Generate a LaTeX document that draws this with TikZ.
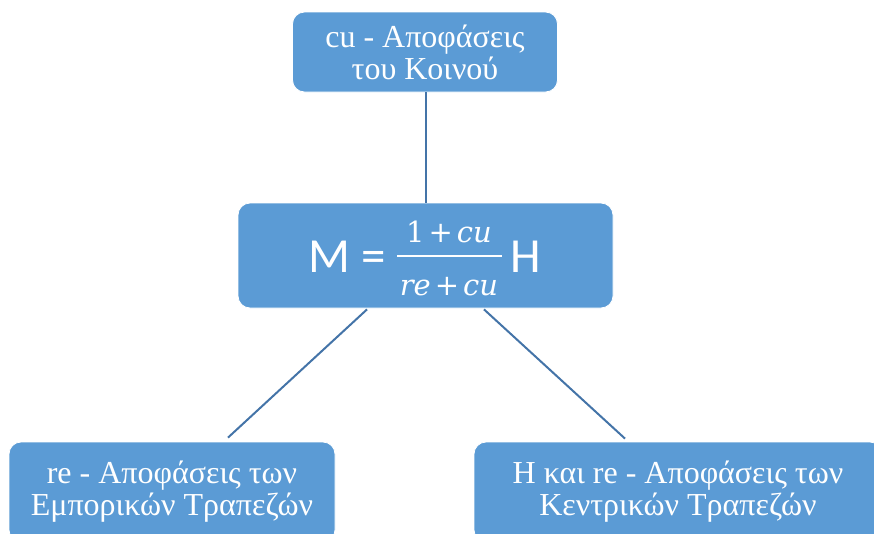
\documentclass[tikz,border=0pt]{standalone}
\usepackage{fontspec}
\setmainfont{Liberation Serif}
\newfontfamily\carlito{Carlito}
\newfontfamily\mathserif{DejaVu Serif}
\usetikzlibrary{calc}
\definecolor{boxblue}{HTML}{5B9BD5}
\definecolor{lineblue}{HTML}{4474A8}
\begin{document}
\begin{tikzpicture}[x=1pt,y=-1pt,
  box/.style={draw=white, line width=0.8pt, fill=boxblue, rounded corners=12pt,
    text=white, align=center, inner sep=0pt,
    font=\fontsize{32}{32}\selectfont},
  link/.style={draw=lineblue, line width=2pt},
  sanstext/.style={text=white, inner sep=0pt, font=\carlito\fontsize{49}{52}\selectfont},
  mathtext/.style={text=white, inner sep=0pt, font=\mathserif\fontsize{29}{32}\selectfont}]
\useasboundingbox (0,0) rectangle (874,533);
\clip (0,0) rectangle (874,533);

\node[box, minimum width=265pt, minimum height=80pt] (top) at (425,52)
  {cu - Αποφάσεις\\του Κοινού};
\node[box, minimum width=375pt, minimum height=105pt] (mid) at (425.5,255.5) {};
\node[box, minimum width=326pt, minimum height=100pt] (bl) at (172,492)
  {re - Αποφάσεις των\\Εμπορικών Τραπεζών};
\node[box, minimum width=408pt, minimum height=100pt] (br) at (678,492)
  {Η και re - Αποφάσεις των\\Κεντρικών Τραπεζών};

% formula
\node[sanstext, anchor=base west] (fM) at (308,272) {M =};
\node[mathtext, anchor=base] (fnum) at (449,242) {1\hspace{4pt}+\hspace{4pt}\textit{cu}};
\node[mathtext, anchor=base] (fden) at (449,295) {\textit{re}\hspace{4pt}+\hspace{4pt}\textit{cu}};
\coordinate (barL) at (397,256);
\coordinate (barR) at (502,256);
\draw[white, line width=2pt] (barL) -- (barR);
\node[sanstext, anchor=base west] (fH) at (510,272) {H};

% connectors
\draw[link] (top.south -| 426,0) -- (mid.north -| 426,0);
\draw[link] ($(mid.south)+(-58.5,1)$) -- ($(bl.north)+(56,-4)$);
\draw[link] ($(mid.south)+(58.5,1)$) -- ($(br.north)+(-53,-3)$);
\end{tikzpicture}
\end{document}
